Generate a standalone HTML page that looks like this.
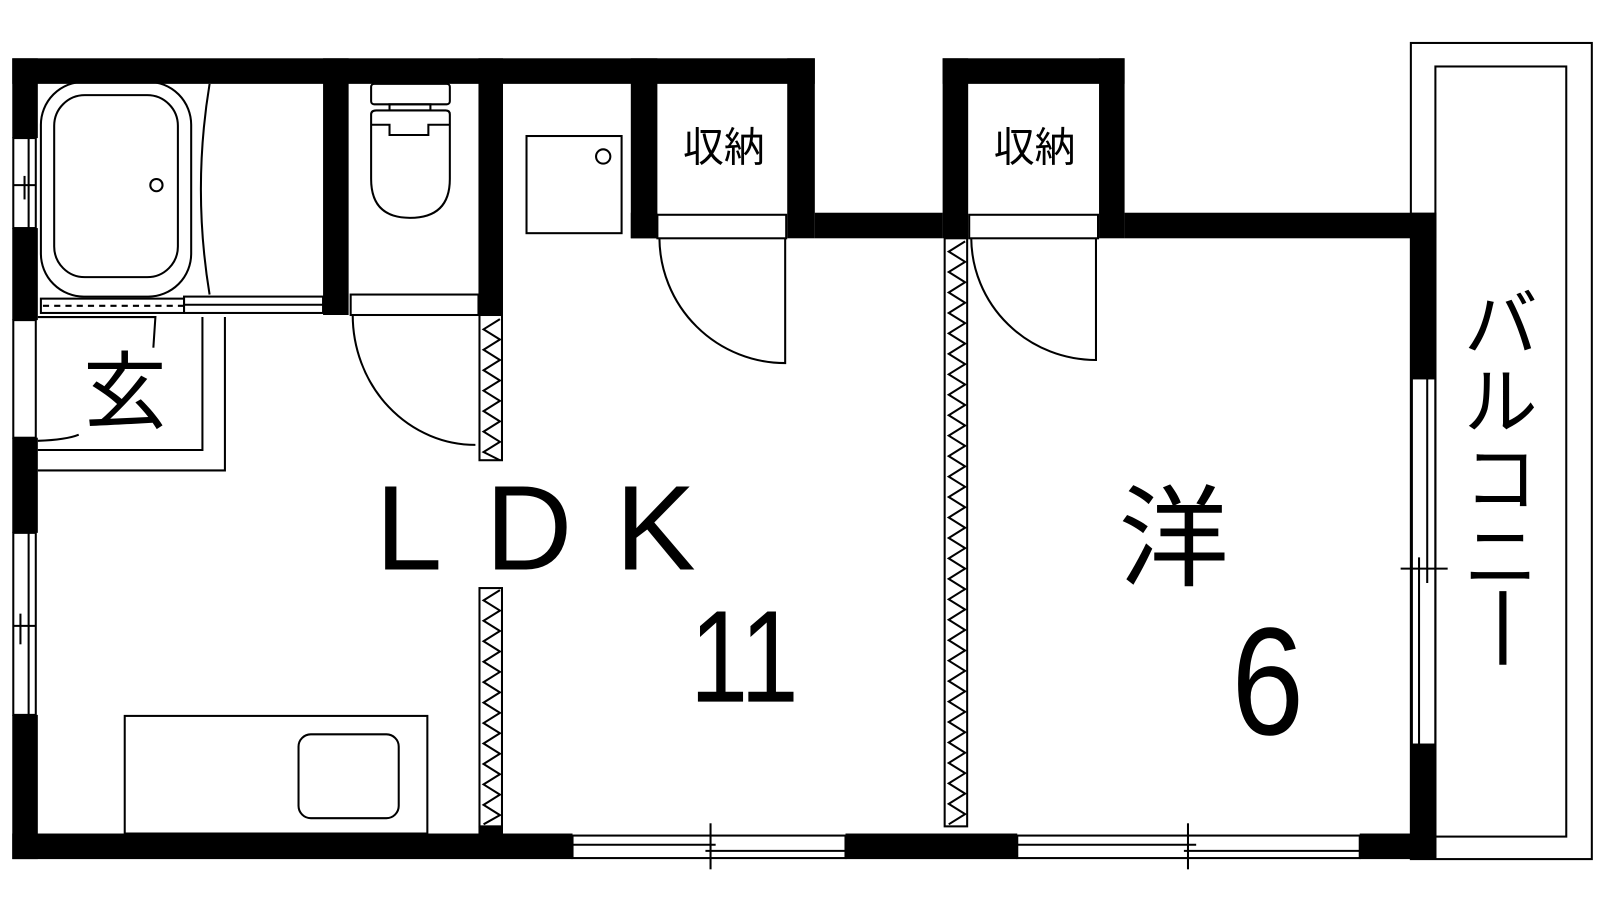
<!DOCTYPE html>
<html><head><meta charset="utf-8"><style>
html,body{margin:0;padding:0;background:#fff;}
svg{display:block;}
text{font-family:"Liberation Sans","Noto Sans CJK JP",sans-serif;fill:#000;}
</style></head><body>
<svg width="1600" height="900" viewBox="0 0 1565 880" preserveAspectRatio="none" xmlns="http://www.w3.org/2000/svg">
<rect width="1565" height="880" fill="#fff"/>
<g fill="none" stroke="#000" stroke-width="2">
<rect x="1380" y="42" width="177" height="798"/>
<rect x="1404" y="65" width="128" height="753"/>
<rect x="40" y="80" width="147" height="210" rx="42"/>
<rect x="53" y="93" width="121" height="178" rx="30"/>
<circle cx="153" cy="181" r="6"/>
<path d="M205 82 Q188 185 205 288"/>
<rect x="40" y="292" width="140" height="14"/>
<line x1="42" y1="299" x2="180" y2="299" stroke-dasharray="6,5"/>
<rect x="180" y="290" width="136" height="16"/>
<line x1="180" y1="298" x2="316" y2="298"/>
<rect x="363" y="82" width="77" height="20" rx="3"/>
<rect x="381" y="102" width="40" height="6"/>
<path d="M363 112 Q363 108 368 108 L436 108 Q440 108 440 112 L440 175 Q440 213 401 213 Q363 213 363 175 Z"/>
<path d="M363 122 L381 122 L381 132 L419 132 L419 122 L440 122"/>
<rect x="343" y="288" width="125" height="20"/>
<path d="M345 308 A120 127 0 0 0 465 435"/>
<rect x="515" y="133" width="93" height="95"/>
<circle cx="590" cy="153" r="7"/>
<rect x="122" y="700" width="296" height="115"/>
<rect x="292" y="718" width="98" height="82" rx="12"/>
<polyline points="37,310 152,310 150,340"/>
<polyline points="198,310 198,440 37,440"/>
<polyline points="220,310 220,460 37,460"/>
<path d="M37 431 Q65 430 77 425"/>
<rect x="643" y="210" width="126" height="23"/>
<path d="M645 233 A123 123 0 0 0 768 355 L768 233"/>
<rect x="948" y="210" width="126" height="23"/>
<path d="M950 233 A122 120 0 0 0 1072 352 L1072 233"/>
<rect x="13" y="135" width="22" height="88"/>
<line x1="28" y1="135" x2="28" y2="223"/>
<line x1="13" y1="181" x2="35" y2="181"/>
<line x1="24" y1="172" x2="24" y2="195"/>
<rect x="13" y="313" width="22" height="115"/>
<rect x="13" y="521" width="22" height="178"/>
<line x1="28" y1="521" x2="28" y2="699"/>
<line x1="20" y1="600" x2="20" y2="630"/>
<line x1="13" y1="612" x2="35" y2="612"/>
<rect x="560" y="817" width="267" height="22"/>
<line x1="560" y1="826" x2="700" y2="826"/>
<line x1="690" y1="832" x2="827" y2="832"/>
<line x1="695" y1="805" x2="695" y2="850"/>
<rect x="995" y="817" width="335" height="22"/>
<line x1="995" y1="826" x2="1170" y2="826"/>
<line x1="1158" y1="832" x2="1330" y2="832"/>
<line x1="1162" y1="805" x2="1162" y2="850"/>
<rect x="1381" y="370" width="23" height="358"/>
<line x1="1396" y1="370" x2="1396" y2="570"/>
<line x1="1388" y1="545" x2="1388" y2="728"/>
<line x1="1370" y1="556" x2="1416" y2="556"/>
<rect x="469" y="308" width="22" height="142"/>
<rect x="469" y="575" width="22" height="233"/>
<rect x="924" y="233" width="22" height="575"/>
</g>
<g fill="none" stroke="#000" stroke-width="2">
<polyline points="489,312 473,322 489,332 473,342 489,352 473,362 489,372 473,382 489,392 473,402 489,412 473,422 489,432 473,442 489,450"/>
<polyline points="489,577 473,587 489,597 473,607 489,617 473,627 489,637 473,647 489,657 473,667 489,677 473,687 489,697 473,707 489,717 473,727 489,737 473,747 489,757 473,767 489,777 473,787 489,797 473,806"/>
<polyline points="944,236 928,246 944,256 928,266 944,276 928,286 944,296 928,306 944,316 928,326 944,336 928,346 944,356 928,366 944,376 928,386 944,396 928,406 944,416 928,426 944,436 928,446 944,456 928,466 944,476 928,486 944,496 928,506 944,516 928,526 944,536 928,546 944,556 928,566 944,576 928,586 944,596 928,606 944,616 928,626 944,636 928,646 944,656 928,666 944,676 928,686 944,696 928,706 944,716 928,726 944,736 928,746 944,756 928,766 944,776 928,786 944,796 928,806"/>
</g>
<g fill="#000">
<rect x="12" y="57" width="785" height="25"/>
<rect x="922" y="57" width="178" height="25"/>
<rect x="12" y="57" width="25" height="78"/>
<rect x="12" y="223" width="25" height="90"/>
<rect x="12" y="428" width="25" height="93"/>
<rect x="12" y="699" width="25" height="141"/>
<rect x="316" y="57" width="25" height="251"/>
<rect x="468" y="57" width="24" height="251"/>
<rect x="617" y="57" width="26" height="176"/>
<rect x="770" y="57" width="27" height="176"/>
<rect x="922" y="57" width="25" height="176"/>
<rect x="1075" y="57" width="25" height="176"/>
<rect x="797" y="208" width="125" height="25"/>
<rect x="1100" y="208" width="305" height="25"/>
<rect x="617" y="208" width="26" height="25"/>
<rect x="468" y="808" width="24" height="8"/>
<rect x="1380" y="208" width="25" height="162"/>
<rect x="1380" y="728" width="25" height="112"/>
<rect x="12" y="815" width="548" height="25"/>
<rect x="827" y="815" width="168" height="25"/>
<rect x="1330" y="815" width="75" height="25"/>
</g>
<text x="708" y="158" font-size="40" text-anchor="middle">収納</text>
<text x="1012" y="158" font-size="40" text-anchor="middle">収納</text>
<text x="122" y="412" font-size="82" text-anchor="middle">玄</text>
<text x="367" y="557" font-size="118" letter-spacing="42">LDK</text>
<text x="728" y="686" font-size="128" text-anchor="middle" transform="translate(728 0) scale(0.8 1) translate(-728 0)">11</text>
<text x="1148" y="564" font-size="108" text-anchor="middle">洋</text>
<text x="1240" y="718" font-size="150" text-anchor="middle" transform="translate(1240 0) scale(0.85 1) translate(-1240 0)">6</text>
<g font-size="72" text-anchor="middle">
<text x="1468" y="342">バ</text>
<text x="1468" y="418">ル</text>
<text x="1468" y="494">コ</text>
<text x="1468" y="570">ニ</text>
</g>
<line x1="1470" y1="578" x2="1470" y2="650" stroke="#000" stroke-width="7"/>
</svg>
</body></html>
